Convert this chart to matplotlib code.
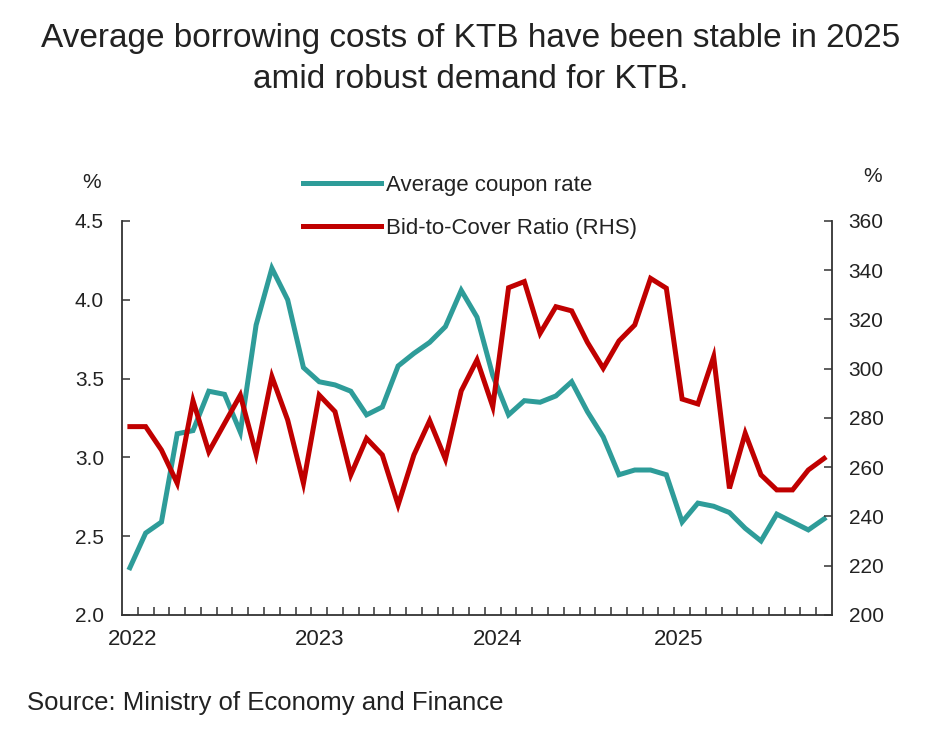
import matplotlib
matplotlib.use("Agg")
import matplotlib.pyplot as plt
from matplotlib.lines import Line2D

plt.rcParams['font.family'] = ['Liberation Sans', 'DejaVu Sans']

# Monthly data, Jan 2022 - Sep 2025
months = list(range(45))
coupon_rate = [2.30, 2.52, 2.59, 3.15, 3.17, 3.42, 3.40, 3.16, 3.84, 4.20,
               4.00, 3.57, 3.48, 3.46, 3.42, 3.27, 3.32, 3.58, 3.66, 3.73,
               3.83, 4.06, 3.89, 3.52, 3.27, 3.36, 3.35, 3.39, 3.48, 3.29,
               3.13, 2.89, 2.92, 2.92, 2.89, 2.59, 2.71, 2.69, 2.65, 2.55,
               2.47, 2.64, 2.59, 2.54, 2.61]
bid_to_cover = [276.5, 276.5, 267.0, 253.5, 287.0, 266.3, 277.8, 289.3, 265.3, 296.8,
                279.2, 253.5, 289.3, 282.6, 256.9, 271.7, 265.0, 244.7, 265.0, 278.9,
                263.3, 291.0, 303.6, 284.6, 332.9, 335.4, 314.4, 325.2, 323.5, 310.7,
                300.2, 311.3, 317.8, 336.7, 332.7, 287.7, 285.7, 304.9, 251.4, 273.8,
                256.9, 250.8, 250.8, 258.9, 263.6]
year_labels = ['2022', '2023', '2024', '2025']
year_label_pos = [0.2, 12.0, 23.3, 34.8]
left_ticks = [2.0, 2.5, 3.0, 3.5, 4.0, 4.5]
right_ticks = [200, 220, 240, 260, 280, 300, 320, 340, 360]

teal = '#2E9C99'
red = '#C00000'
txt = '#222222'

fig = plt.figure(figsize=(9.41, 7.43), dpi=100)
ax = fig.add_axes([122/941, 1-615/743, (832-122)/941, (615-221)/743])
ax2 = ax.twinx()

l1, = ax.plot(months, coupon_rate, color=teal, lw=3.6, solid_joinstyle='miter', zorder=3)
l2, = ax2.plot(months, bid_to_cover, color=red, lw=3.6, solid_joinstyle='miter', zorder=3)

ax.set_xlim(-0.5, 44.5)
ax.set_ylim(2.0, 4.5)
ax2.set_ylim(200, 360)
ax.set_yticks(left_ticks)
ax.set_yticklabels([f'{v:.1f}' for v in left_ticks])
ax2.set_yticks(right_ticks)
ax2.set_yticklabels([str(v) for v in right_ticks])

ax.set_xticks(year_label_pos)
ax.set_xticklabels(year_labels)
ax.set_xticks([m + 0.5 for m in months[:-1]], minor=True)
ax.tick_params(axis='x', which='major', length=0, pad=10, labelsize=16, colors=txt)
ax.tick_params(axis='x', which='minor', direction='in', length=6, width=1.1, color='#333333')
ax.tick_params(axis='y', direction='in', length=6, width=1.1, pad=13, labelsize=15, colors=txt, color='#333333')
ax2.tick_params(axis='y', direction='in', length=6, width=1.1, pad=12, labelsize=15, colors=txt, color='#333333')

for a in (ax, ax2):
    a.spines['top'].set_visible(False)
    for s in ['left', 'right', 'bottom']:
        a.spines[s].set_linewidth(1.3)
        a.spines[s].set_color('#333333')
ax.spines['right'].set_visible(False)
ax2.spines['left'].set_visible(False)
ax2.spines['bottom'].set_visible(False)

fig.text(92/941, 1-183/743, '%', ha='center', va='center', fontsize=15, color=txt)
fig.text(873/941, 1-176/743, '%', ha='center', va='center', fontsize=15, color=txt)

handles = [Line2D([], [], color=teal, lw=3.6), Line2D([], [], color=red, lw=3.6)]
fig.legend(handles, ['Average coupon rate', 'Bid-to-Cover Ratio (RHS)'],
           loc='upper left', bbox_to_anchor=(303/941, 1-175/743),
           frameon=False, borderpad=0, borderaxespad=0, handlelength=3.5,
           handletextpad=0.25, labelspacing=1.0, fontsize=16, labelcolor=txt)

fig.text(0.5, 1-38/743, 'Average borrowing costs of KTB have been stable in 2025',
         ha='center', va='center', fontsize=24, color=txt)
fig.text(0.5, 1-80/743, 'amid robust demand for KTB.',
         ha='center', va='center', fontsize=24, color=txt)
fig.text(27/941, 1-703/743, 'Source: Ministry of Economy and Finance',
         ha='left', va='center', fontsize=18.5, color=txt)

fig.savefig('out.png', dpi=100)
